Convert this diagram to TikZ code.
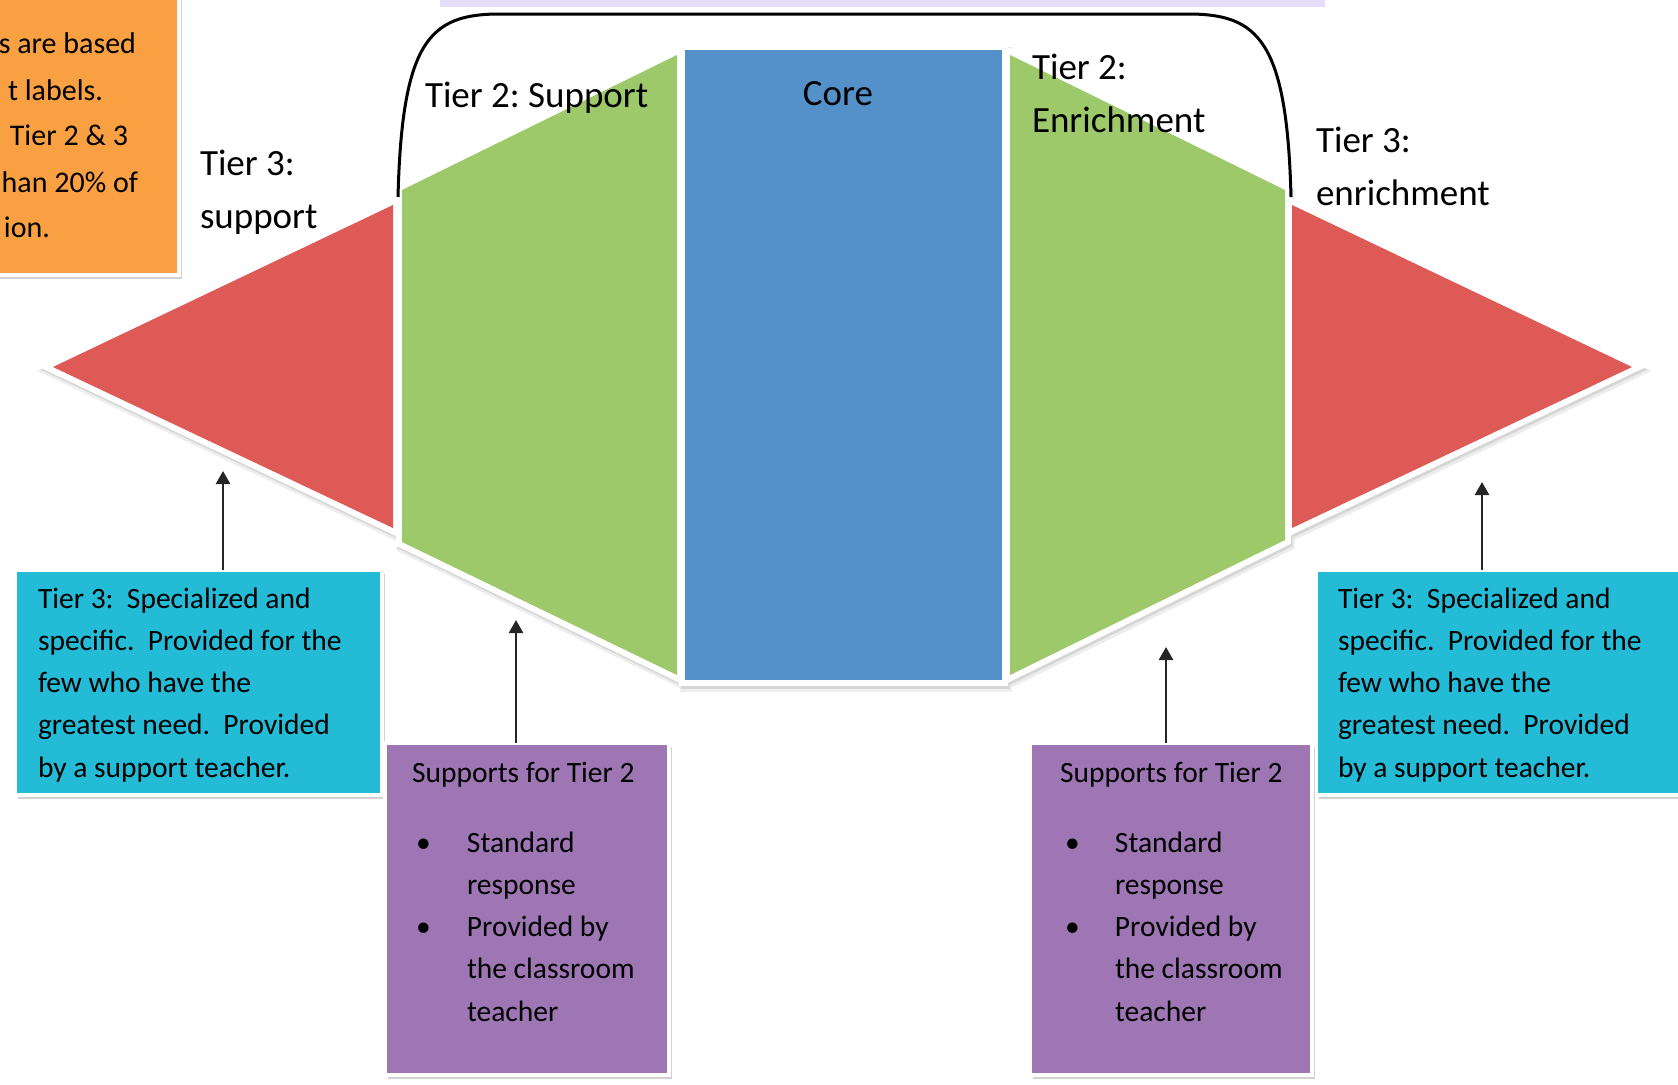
\documentclass[tikz,border=0pt]{standalone}
\usepackage{fontspec}
\setmainfont{Carlito}
\usetikzlibrary{arrows.meta,shadows}
\definecolor{redT}{RGB}{221,90,86}
\definecolor{greenT}{RGB}{157,201,106}
\definecolor{blueT}{RGB}{84,145,201}
\definecolor{cyanT}{RGB}{35,187,213}
\definecolor{purpleT}{RGB}{158,118,180}
\definecolor{orangeT}{RGB}{249,160,67}
\definecolor{lavT}{RGB}{228,222,250}
\def\pRedL{(53,367) -- (393,205) -- (393,528) -- cycle}
\def\pGrnL{(402,190) -- (677,55) -- (677,675) -- (402,542) -- cycle}
\def\pCore{(685,50) -- (1002,50) -- (1002,680) -- (685,680) -- cycle}
\def\pGrnR{(1010,55) -- (1285,190) -- (1285,540) -- (1010,675) -- cycle}
\def\pRedR{(1292,205) -- (1632,367) -- (1292,528) -- cycle}
\begin{document}
\frenchspacing
\begin{tikzpicture}[x=1pt,y=-1pt,
  every node/.style={inner sep=0pt, outer sep=0pt},
  lbl/.style={font=\fontsize{37}{53}\selectfont, align=left, text=black},
  txt/.style={font=\fontsize{29.5}{42.3}\selectfont, align=left, text=black},
  otxt/.style={font=\fontsize{30}{46}\selectfont, text=black},
  tbox/.style={draw=white, line width=4pt, anchor=north west,
    drop shadow={shadow xshift=3pt, shadow yshift=-4pt, fill=black!18, opacity=1}},
  shA/.style={fill=black!7, draw=black!7, line width=15pt, line join=miter, shift={(2,4)}},
  shB/.style={fill=black!16, draw=black!16, line width=12pt, line join=miter, shift={(1.5,2.5)}},
  rim/.style={draw=white, line width=12pt, line join=miter},
  conn/.style={draw=black!85, line width=2.5pt, -{Triangle[length=13pt,width=14pt]}},
  brace/.style={draw=black, line width=3pt}
]
\useasboundingbox (0,0) rectangle (1678,1084);
\clip (0,0) rectangle (1678,1084);

% faint cut-off title band
\fill[lavT] (440,0) rectangle (1325,7);

% orange note box (cut off at the edge)
\node[tbox, fill=orangeT, minimum width=199pt, minimum height=295pt] (orange) at (-20,-20) {};
\node[otxt, anchor=base east] (o1) at (136,53) {s are based};
\node[otxt, anchor=base east] (o2) at (103,100) {t labels.};
\node[otxt, anchor=base east] (o3) at (128,145) {Tier 2 \& 3};
\node[otxt, anchor=base east] (o4) at (138,192) {han 20\% of};
\node[otxt, anchor=base east] (o5) at (50,237) {ion.};

% diamond pieces
\foreach \p in {\pRedL,\pGrnL,\pCore,\pGrnR,\pRedR} { \path[shA] \p; }
\foreach \p in {\pRedL,\pGrnL,\pCore,\pGrnR,\pRedR} { \path[shB] \p; }
\foreach \p in {\pRedL,\pGrnL,\pCore,\pGrnR,\pRedR} { \path[rim] \p; }
\fill[redT] \pRedL;
\fill[greenT] \pGrnL;
\fill[blueT] \pCore;
\fill[greenT] \pGrnR;
\fill[redT] \pRedR;

% bracket over tier 2 and core
\draw[brace] (398,197) .. controls (402,40) and (430,14) .. (500,14) -- (1188,14)
  .. controls (1258,14) and (1287,40) .. (1291,197);

% labels
\node[lbl, anchor=base west] (t2s) at (425,107) {Tier 2: Support};
\node[lbl, anchor=base] (core) at (838,105) {Core};
\node[lbl, anchor=north west] (t2e) at (1032,39) {\rule{0pt}{40pt}Tier 2:\\Enrichment};
\node[lbl, anchor=north west] (t3s) at (200,135) {\rule{0pt}{40pt}Tier 3:\\support};
\node[lbl, anchor=north west] (t3e) at (1316,112) {\rule{0pt}{40pt}Tier 3:\\enrichment};

% boxes
\node[tbox, fill=cyanT, minimum width=367pt, minimum height=225pt] (cyanL) at (15,570) {};
\node[tbox, fill=cyanT, minimum width=386pt, minimum height=225pt] (cyanR) at (1316,570) {};
\node[tbox, fill=purpleT, minimum width=284pt, minimum height=332pt] (purL) at (385,743) {};
\node[tbox, fill=purpleT, minimum width=282pt, minimum height=332pt] (purR) at (1030,743) {};

\node[txt, anchor=north west] (cyanLtxt) at (38,568) {\rule{0pt}{40pt}Tier 3:~ Specialized and\\specific.~ Provided for the\\few who have the\\greatest need.~ Provided\\by a support teacher.};
\node[txt, anchor=north west] (cyanRtxt) at (1338,568) {\rule{0pt}{40pt}Tier 3:~ Specialized and\\specific.~ Provided for the\\few who have the\\greatest need.~ Provided\\by a support teacher.};

\node[txt, anchor=base west] (purLh) at (412,782) {Supports for Tier 2};
\node[txt, anchor=north west] (purLtxt) at (416,812) {\rule{0pt}{40pt}\makebox[51pt][l]{•}Standard\\\hspace*{51pt}response\\\makebox[51pt][l]{•}Provided by\\\hspace*{51pt}the classroom\\\hspace*{51pt}teacher};
\node[txt, anchor=base west] (purRh) at (1060,782) {Supports for Tier 2};
\node[txt, anchor=north west] (purRtxt) at (1065,812) {\rule{0pt}{40pt}\makebox[50pt][l]{•}Standard\\\hspace*{50pt}response\\\makebox[50pt][l]{•}Provided by\\\hspace*{50pt}the classroom\\\hspace*{50pt}teacher};

% arrows
\coordinate (tipA) at (223,471);
\coordinate (tipB) at (516,620);
\coordinate (tipC) at (1166,647);
\coordinate (tipD) at (1482,482);
\draw[conn] (cyanL.north -| tipA) -- (tipA);
\draw[conn] (purL.north -| tipB) -- (tipB);
\draw[conn] (purR.north -| tipC) -- (tipC);
\draw[conn] (cyanR.north -| tipD) -- (tipD);
\end{tikzpicture}
\end{document}
